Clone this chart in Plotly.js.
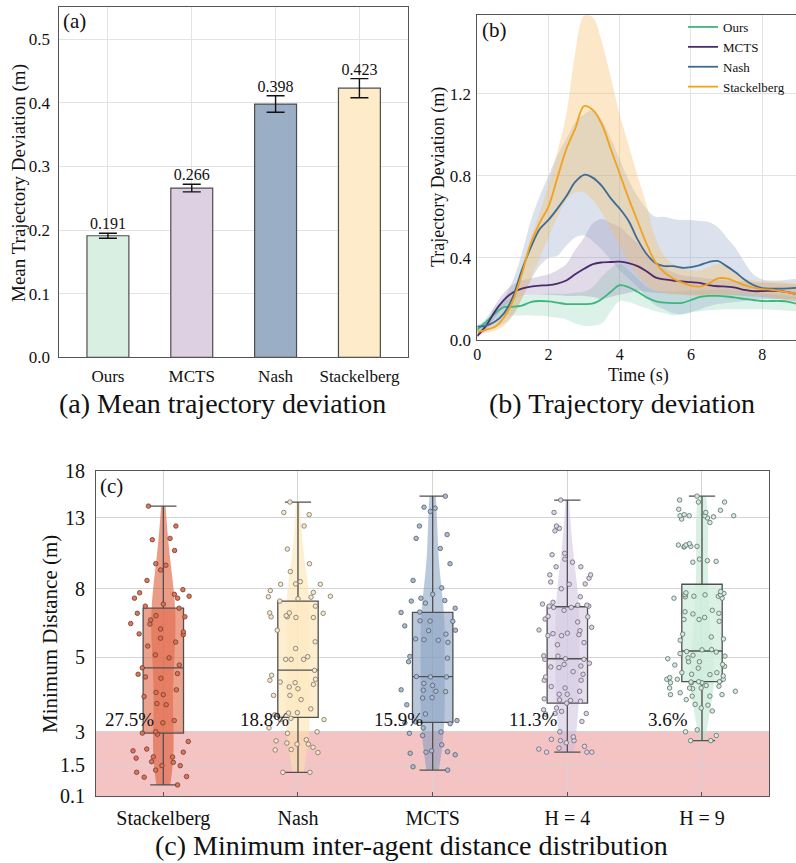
<!DOCTYPE html>
<html>
<head>
<meta charset="utf-8">
<script src="https://cdn.plot.ly/plotly-3.0.1.min.js"></script>
<style>html,body{margin:0;padding:0;background:#fff;}#chart{width:796px;height:863px;}</style>
</head>
<body>
<div id="chart"></div>
<script>
// ---------- Panel (a) data ----------
const barCats = ['Ours', 'MCTS', 'Nash', 'Stackelberg'];
const barVals = [0.191, 0.266, 0.398, 0.423];
const barErrs = [0.004, 0.006, 0.013, 0.015];
const barColors = ['#d9efe2', '#dcd0e2', '#9aafc6', '#fdebc9'];

// ---------- Panel (b) data ----------
const time = [0,0.25,0.5,0.75,1,1.25,1.5,1.75,2,2.25,2.5,2.75,3,3.25,3.5,3.75,4,4.25,4.5,4.75,5,5.25,5.5,5.75,6,6.25,6.5,6.75,7,7.25,7.5,7.75,8,8.25,8.5,8.75,9];
const oursMean = [0.05,0.09,0.13,0.16,0.162,0.168,0.185,0.19,0.188,0.182,0.175,0.175,0.175,0.178,0.2,0.235,0.267,0.257,0.235,0.208,0.19,0.182,0.18,0.181,0.195,0.21,0.215,0.215,0.212,0.207,0.2,0.195,0.19,0.19,0.19,0.186,0.175];
const oursUp   = [0.06,0.11,0.16,0.19,0.205,0.213,0.22,0.222,0.225,0.225,0.225,0.23,0.235,0.26,0.31,0.35,0.37,0.34,0.3,0.26,0.24,0.237,0.235,0.237,0.24,0.243,0.245,0.245,0.245,0.24,0.235,0.23,0.225,0.222,0.22,0.215,0.21];
const oursLow  = [0.03,0.06,0.1,0.12,0.12,0.12,0.12,0.118,0.115,0.108,0.1,0.08,0.07,0.07,0.08,0.14,0.19,0.185,0.17,0.155,0.14,0.13,0.12,0.125,0.135,0.14,0.145,0.148,0.15,0.15,0.15,0.15,0.15,0.148,0.145,0.142,0.14];
const mctsMean = [0.02,0.07,0.14,0.195,0.232,0.25,0.26,0.265,0.267,0.275,0.29,0.32,0.347,0.37,0.378,0.38,0.382,0.375,0.36,0.335,0.305,0.295,0.29,0.285,0.282,0.278,0.268,0.262,0.26,0.255,0.244,0.238,0.238,0.24,0.238,0.232,0.222];
const mctsUp   = [0.03,0.09,0.17,0.23,0.27,0.29,0.3,0.31,0.32,0.34,0.37,0.44,0.5,0.57,0.59,0.57,0.55,0.51,0.47,0.42,0.38,0.35,0.33,0.315,0.31,0.305,0.3,0.295,0.29,0.288,0.285,0.282,0.28,0.278,0.275,0.272,0.27];
const mctsLow  = [0.01,0.05,0.11,0.16,0.2,0.215,0.22,0.22,0.22,0.218,0.215,0.215,0.215,0.21,0.2,0.21,0.22,0.23,0.24,0.235,0.23,0.228,0.225,0.222,0.22,0.22,0.22,0.22,0.22,0.218,0.215,0.212,0.21,0.205,0.2,0.192,0.185];
const nashMean = [0.065,0.07,0.09,0.13,0.21,0.34,0.45,0.54,0.585,0.64,0.7,0.77,0.805,0.79,0.75,0.69,0.64,0.58,0.49,0.42,0.375,0.36,0.36,0.352,0.355,0.365,0.38,0.385,0.36,0.33,0.295,0.268,0.253,0.25,0.25,0.252,0.255];
const nashUp   = [0.075,0.09,0.13,0.2,0.29,0.42,0.58,0.7,0.8,0.9,0.98,1.06,1.1,1.12,1.07,0.98,0.88,0.78,0.7,0.64,0.6,0.6,0.59,0.585,0.585,0.58,0.575,0.55,0.5,0.45,0.38,0.32,0.295,0.29,0.29,0.295,0.3];
const nashLow  = [0.04,0.05,0.06,0.08,0.12,0.2,0.29,0.36,0.4,0.41,0.46,0.5,0.51,0.48,0.44,0.39,0.34,0.3,0.26,0.21,0.17,0.15,0.13,0.125,0.135,0.15,0.165,0.175,0.18,0.185,0.19,0.195,0.2,0.2,0.2,0.2,0.2];
const stackMean= [0.04,0.05,0.065,0.11,0.19,0.32,0.47,0.57,0.65,0.79,0.93,1.03,1.14,1.12,1.05,0.93,0.81,0.69,0.58,0.47,0.38,0.33,0.3,0.28,0.265,0.26,0.275,0.3,0.3,0.285,0.267,0.255,0.248,0.245,0.238,0.232,0.222];
const stackUp  = [0.05,0.06,0.09,0.15,0.24,0.36,0.5,0.62,0.76,0.92,1.1,1.4,1.58,1.57,1.45,1.28,1.1,0.95,0.8,0.66,0.5,0.41,0.37,0.35,0.34,0.34,0.355,0.37,0.36,0.33,0.3,0.29,0.285,0.285,0.285,0.28,0.275];
const stackLow = [0.03,0.035,0.045,0.07,0.12,0.2,0.3,0.4,0.5,0.6,0.68,0.72,0.72,0.68,0.62,0.54,0.46,0.38,0.32,0.27,0.24,0.23,0.22,0.22,0.215,0.215,0.215,0.218,0.22,0.22,0.22,0.218,0.215,0.21,0.2,0.195,0.19];
const lineNames = ['Ours', 'MCTS', 'Nash', 'Stackelberg'];
const lineColors = ['#3cb67f', '#4a2a6c', '#3d6b94', '#f2a21e'];
const bandColors = ['rgba(80,190,140,0.20)', 'rgba(120,85,150,0.22)', 'rgba(135,160,195,0.30)', 'rgba(246,190,100,0.35)'];

// ---------- Panel (c) data ----------
const boxCats = ['Stackelberg', 'Nash', 'MCTS', 'H = 4', 'H = 9'];
const stackPts = [14.1,12.3,11.3,11.2,10.4,9.5,9.4,9.1,8.47,7.95,7.78,7.7,7.6,7.5,7.5,7.2,7.1,7.0,6.76,6.65,6.6,6.46,6.28,6.3,6.07,5.84,5.87,5.95,5.7,5.55,5.4,5.08,4.98,4.74,4.65,4.37,4.47,4.45,4.33,4.0,3.82,3.93,3.87,3.61,3.64,3.24,3.19,2.94,3.0,2.89,2.56,2.08,1.81,2.22,2.14,1.86,1.87,1.62,1.65,1.47,1.47,1.27,1.17,0.98,0.95,0.6];
const nashPts = [14.5,13.5,13.3,12.3,10.5,9.5,9.0,8.4,8.25,8.25,8.27,7.9,7.8,7.6,7.57,7.47,7.35,7.55,7.1,6.78,6.78,6.6,6.57,6.65,6.57,6.6,6.76,6.02,5.56,5.31,5.02,4.93,4.93,4.93,4.57,4.42,4.27,4.22,4.15,4.3,4.2,4.08,4.03,3.85,3.85,3.74,3.51,3.41,3.37,3.29,3.26,3.26,3.42,3.08,3.0,2.93,2.64,2.59,2.44,2.49,2.44,2.3,2.18,2.06,2.2,1.17,1.17];
const mctsPts = [15.1,14.0,13.6,13.9,12.3,11.3,11.6,10.55,9.5,8.47,8.05,7.7,7.25,7.35,7.38,7.5,7.0,6.82,6.8,6.41,6.4,6.42,6.2,6.0,6.02,5.86,5.67,5.64,5.62,5.54,4.97,5.03,4.85,4.37,4.37,4.38,4.18,4.12,3.96,3.99,4.0,3.95,3.78,3.79,3.61,3.39,3.24,3.17,3.19,3.21,3.08,2.99,2.93,2.83,2.41,2.14,2.1,1.96,2.08,2.03,1.42,1.27];
const h4Pts = [14.7,13.5,12.3,12.1,11.9,10.1,9.8,10.2,9.6,9.3,9.3,8.8,8.8,8.6,8.38,8.27,8.25,8.0,7.57,7.29,7.15,6.9,7.04,7.04,7.1,7.2,7.1,7.15,6.62,6.6,6.5,6.37,6.14,6.0,6.03,5.84,5.88,5.8,5.9,5.8,5.45,5.53,5.04,4.95,5.05,4.93,4.93,4.68,4.71,4.76,4.66,4.8,4.53,4.27,4.27,4.45,4.37,4.09,4.05,3.88,3.88,3.96,3.76,3.73,3.72,3.7,3.65,3.49,3.45,3.53,3.39,3.4,3.4,3.22,3.0,2.6,2.6,2.66,2.77,2.5,2.34,2.26,2.08,2.22,2.08,2.08];
const h9Pts = [15.1,14.7,14.5,14.5,13.7,13.8,13.5,13.3,13.2,13.2,13.2,13.2,13.1,13.0,12.9,12.6,10.65,10.7,10.8,10.7,10.7,10.9,10.8,9.7,9.6,9.8,9.65,7.57,7.5,7.67,7.5,7.68,7.6,7.85,7.78,7.68,7.75,7.6,6.9,6.83,6.76,6.73,6.57,6.4,6.48,6.48,5.86,5.67,5.75,5.62,5.13,5.26,5.04,4.98,4.85,4.95,4.85,4.76,5.18,5.27,5.2,5.07,4.74,4.7,4.64,4.35,4.44,4.5,4.45,4.3,4.5,4.4,4.3,4.22,4.12,4.2,4.2,4.23,4.3,4.2,4.1,4.23,4.03,4.05,4.05,4.05,3.96,3.92,3.87,3.83,3.87,3.83,3.62,3.6,3.53,3.74,3.46,3.04,3.0,2.83,2.6,2.6];
const boxLowerFence = [0.6, 1.17, 1.27, 2.08, 2.6];
const boxQ1 = [2.94, 3.31, 3.2, 3.65, 4.23];
const boxMedian = [4.65, 4.58, 4.38, 4.95, 5.22];
const boxQ3 = [7.0, 7.35, 6.8, 7.07, 8.25];
const boxUpperFence = [14.1, 14.5, 15.1, 14.7, 15.1];
const collisionPct = ['27.5%', '18.8%', '15.9%', '11.3%', '3.6%'];
const yTicksC = [0.1, 1.5, 3, 5, 8, 13, 18];
const dangerLimit = 3;

const boxFill = ['rgba(226,110,80,0.65)', 'rgba(253,232,192,0.75)', 'rgba(140,165,196,0.62)', 'rgba(214,204,228,0.65)', 'rgba(208,238,221,0.75)'];
const violinFill = ['rgba(222,90,55,0.6)', 'rgba(253,225,172,0.55)', 'rgba(120,148,186,0.5)', 'rgba(200,188,220,0.5)', 'rgba(185,228,205,0.55)'];
const ptFill = ['rgba(222,112,82,0.95)', '#f7e9cf', '#aabcd1', '#ddd4e7', '#d3ece0'];
const ptLine = ['#6d3a2d', '#7b705f', '#555d6c', '#6a6472', '#5e6d66'];

// custom scale for panel (c): log above 3 m, linear below
function tf(v) { return v >= 3 ? Math.log(v) : Math.log(3) - (3 - v) * 0.152; }

const SERIF = 'Liberation Serif, Times New Roman, serif';
const traces = [];

// Panel (a)
traces.push({
  type: 'bar', x: barCats, y: barVals, xaxis: 'x', yaxis: 'y', width: 0.5,
  marker: {color: barColors, line: {color: '#4d4d4d', width: 1.2}},
  error_y: {type: 'data', array: barErrs, visible: true, color: '#111', thickness: 1.4, width: 9},
  showlegend: false, hoverinfo: 'skip'
});
traces.push({
  type: 'scatter', mode: 'text', x: barCats, y: barVals.map((v, i) => v + barErrs[i]),
  text: barVals.map(v => v.toFixed(3)), textposition: 'top center',
  textfont: {family: SERIF, size: 16, color: '#111'}, xaxis: 'x', yaxis: 'y',
  showlegend: false, hoverinfo: 'skip'
});

// Panel (b) bands
const means = [oursMean, mctsMean, nashMean, stackMean];
const ups = [oursUp, mctsUp, nashUp, stackUp];
const lows = [oursLow, mctsLow, nashLow, stackLow];
for (let k = 0; k < 4; k++) {
  traces.push({type: 'scatter', mode: 'lines', x: time, y: lows[k], line: {width: 0, shape: 'spline'},
    xaxis: 'x2', yaxis: 'y2', showlegend: false, hoverinfo: 'skip'});
  traces.push({type: 'scatter', mode: 'lines', x: time, y: ups[k], line: {width: 0, shape: 'spline'},
    fill: 'tonexty', fillcolor: bandColors[k], xaxis: 'x2', yaxis: 'y2', showlegend: false, hoverinfo: 'skip'});
}
for (let k = 0; k < 4; k++) {
  traces.push({type: 'scatter', mode: 'lines', name: lineNames[k], x: time, y: means[k],
    line: {color: lineColors[k], width: 1.8, shape: 'spline'}, xaxis: 'x2', yaxis: 'y2', showlegend: true});
}

// Panel (c)
const samples = [stackPts, nashPts, mctsPts, h4Pts, h9Pts];
for (let k = 0; k < 5; k++) {
  traces.push({type: 'violin', x: samples[k].map(() => boxCats[k]), y: samples[k].map(tf),
    xaxis: 'x3', yaxis: 'y3', width: 0.18, spanmode: 'hard', points: false,
    line: {width: 0}, fillcolor: violinFill[k], box: {visible: false}, meanline: {visible: false},
    showlegend: false, hoverinfo: 'skip'});
}
for (let k = 0; k < 5; k++) {
  traces.push({type: 'box', x: [boxCats[k]], q1: [tf(boxQ1[k])], median: [tf(boxMedian[k])], q3: [tf(boxQ3[k])],
    lowerfence: [tf(boxLowerFence[k])], upperfence: [tf(boxUpperFence[k])],
    xaxis: 'x3', yaxis: 'y3', width: 0.3, whiskerwidth: 0.65, boxpoints: false,
    fillcolor: boxFill[k], line: {color: '#505050', width: 1.3}, showlegend: false, hoverinfo: 'skip'});
}
for (let k = 0; k < 5; k++) {
  traces.push({type: 'box', x: samples[k].map(() => boxCats[k]), y: samples[k].map(tf),
    xaxis: 'x3', yaxis: 'y3', width: 0.56, boxpoints: 'all', jitter: 1, pointpos: 0,
    fillcolor: 'rgba(0,0,0,0)', line: {width: 0},
    marker: {size: 4.5, color: ptFill[k], line: {color: ptLine[k], width: 0.8}},
    showlegend: false, hoverinfo: 'skip'});
}

const gridC = '#e3e3e3';
const axisLine = '#555';
const tickFont = {family: SERIF, size: 17, color: '#111'};

const annotations = [
  {text: '(a)', xref: 'x domain', yref: 'y domain', x: 0.005, y: 1.0, xanchor: 'left', yanchor: 'top', showarrow: false, font: {family: SERIF, size: 21, color: '#111'}},
  {text: '(b)', xref: 'x2 domain', yref: 'y2 domain', x: 0.01, y: 0.995, xanchor: 'left', yanchor: 'top', showarrow: false, font: {family: SERIF, size: 21, color: '#111'}},
  {text: '(c)', xref: 'x3 domain', yref: 'y3 domain', x: 0.003, y: 0.995, xanchor: 'left', yanchor: 'top', showarrow: false, font: {family: SERIF, size: 21, color: '#111'}},
  // axis titles
  {text: 'Mean Trajectory Deviation (m)', xref: 'paper', yref: 'paper', x: 19 / 796, y: 1 - 183 / 863, textangle: -90, xanchor: 'center', yanchor: 'middle', showarrow: false, font: {family: SERIF, size: 19, color: '#111'}},
  {text: 'Trajectory Deviation (m)', xref: 'paper', yref: 'paper', x: 439 / 796, y: 1 - 177 / 863, textangle: -90, xanchor: 'center', yanchor: 'middle', showarrow: false, font: {family: SERIF, size: 18, color: '#111'}},
  {text: 'Time (s)', xref: 'paper', yref: 'paper', x: 638 / 796, y: 1 - 375 / 863, xanchor: 'center', yanchor: 'middle', showarrow: false, font: {family: SERIF, size: 18, color: '#111'}},
  {text: 'Minimum Distance (m)', xref: 'paper', yref: 'paper', x: 50 / 796, y: 1 - 634 / 863, textangle: -90, xanchor: 'center', yanchor: 'middle', showarrow: false, font: {family: SERIF, size: 21, color: '#111'}},
  // captions
  {text: '(a) Mean trajectory deviation', xref: 'paper', yref: 'paper', x: 222 / 796, y: 1 - 403 / 863, xanchor: 'center', yanchor: 'middle', showarrow: false, font: {family: SERIF, size: 28, color: '#111'}},
  {text: '(b) Trajectory deviation', xref: 'paper', yref: 'paper', x: 622 / 796, y: 1 - 403 / 863, xanchor: 'center', yanchor: 'middle', showarrow: false, font: {family: SERIF, size: 28, color: '#111'}},
  {text: '(c) Minimum inter-agent distance distribution', xref: 'paper', yref: 'paper', x: 411 / 796, y: 1 - 845 / 863, xanchor: 'center', yanchor: 'middle', showarrow: false, font: {family: SERIF, size: 28, color: '#111'}}
];
for (let k = 0; k < 5; k++) {
  annotations.push({text: collisionPct[k], xref: 'x3', yref: 'y3', x: k - 0.25, y: tf(dangerLimit),
    xanchor: 'center', yanchor: 'bottom', showarrow: false, font: {family: SERIF, size: 19, color: '#111'}});
}

const layout = {
  width: 796, height: 863,
  margin: {l: 0, r: 0, t: 0, b: 0, pad: 0},
  paper_bgcolor: '#fff', plot_bgcolor: '#fff',
  font: {family: SERIF, color: '#111'},
  boxmode: 'overlay', violinmode: 'overlay', bargap: 0.5,
  xaxis: {domain: [0.0745, 0.5126], anchor: 'y', type: 'category', categoryarray: barCats, range: [-0.58, 3.58],
    showgrid: true, gridcolor: gridC, showline: true, mirror: true, linecolor: axisLine, linewidth: 1,
    ticks: '', tickfont: tickFont, ticklabelstandoff: 3, automargin: false, zeroline: false},
  yaxis: {domain: [0.586, 0.9915], anchor: 'x', range: [0, 0.55], tickvals: [0, 0.1, 0.2, 0.3, 0.4, 0.5], tickformat: '.1f',
    showgrid: true, gridcolor: gridC, showline: true, mirror: true, linecolor: axisLine, linewidth: 1,
    ticks: '', tickfont: tickFont, ticklabelstandoff: 5, automargin: false, zeroline: false},
  xaxis2: {domain: [0.5996, 1.0], anchor: 'y2', range: [0, 8.95], tickvals: [0, 2, 4, 6, 8],
    showgrid: true, gridcolor: gridC, showline: true, mirror: true, linecolor: axisLine, linewidth: 1,
    ticks: '', tickfont: {family: SERIF, size: 16, color: '#111'}, ticklabelstandoff: 0, automargin: false, zeroline: false},
  yaxis2: {domain: [0.606, 0.983], anchor: 'x2', range: [0, 1.585], tickvals: [0, 0.4, 0.8, 1.2], tickformat: '.1f',
    showgrid: true, gridcolor: gridC, showline: true, mirror: true, linecolor: axisLine, linewidth: 1,
    ticks: '', tickfont: tickFont, ticklabelstandoff: 2, automargin: false, zeroline: false},
  xaxis3: {domain: [0.1206, 0.9665], anchor: 'y3', type: 'category', categoryarray: boxCats, range: [-0.5, 4.5],
    showgrid: true, gridcolor: '#d4d4d4', showline: true, mirror: true, linecolor: axisLine, linewidth: 1,
    ticks: 'inside', ticklen: 4, tickcolor: '#555', tickfont: {family: SERIF, size: 20, color: '#111'}, ticklabelstandoff: 4, automargin: false, zeroline: false},
  yaxis3: {domain: [0.0776, 0.4548], anchor: 'x3', range: [tf(0.1), tf(18)], tickvals: yTicksC.map(tf), ticktext: yTicksC.map(String),
    showgrid: true, gridcolor: '#d4d4d4', showline: true, mirror: true, linecolor: axisLine, linewidth: 1,
    ticks: '', tickfont: {family: SERIF, size: 20, color: '#111'}, ticklabelstandoff: 6, automargin: false, zeroline: false},
  shapes: [
    {type: 'rect', xref: 'paper', yref: 'y3', x0: 0.1206, x1: 0.9665, y0: tf(0.1), y1: tf(dangerLimit),
      fillcolor: 'rgba(222,75,75,0.33)', line: {width: 0}, layer: 'below'}
  ],
  legend: {x: 683 / 796, y: 1 - 12 / 863, xanchor: 'left', yanchor: 'top', bgcolor: 'rgba(255,255,255,0)',
    font: {family: SERIF, size: 13, color: '#111'}, tracegroupgap: 0, traceorder: 'normal'},
  annotations: annotations
};

Plotly.newPlot('chart', traces, layout, {staticPlot: true, displayModeBar: false});
</script>
</body>
</html>
